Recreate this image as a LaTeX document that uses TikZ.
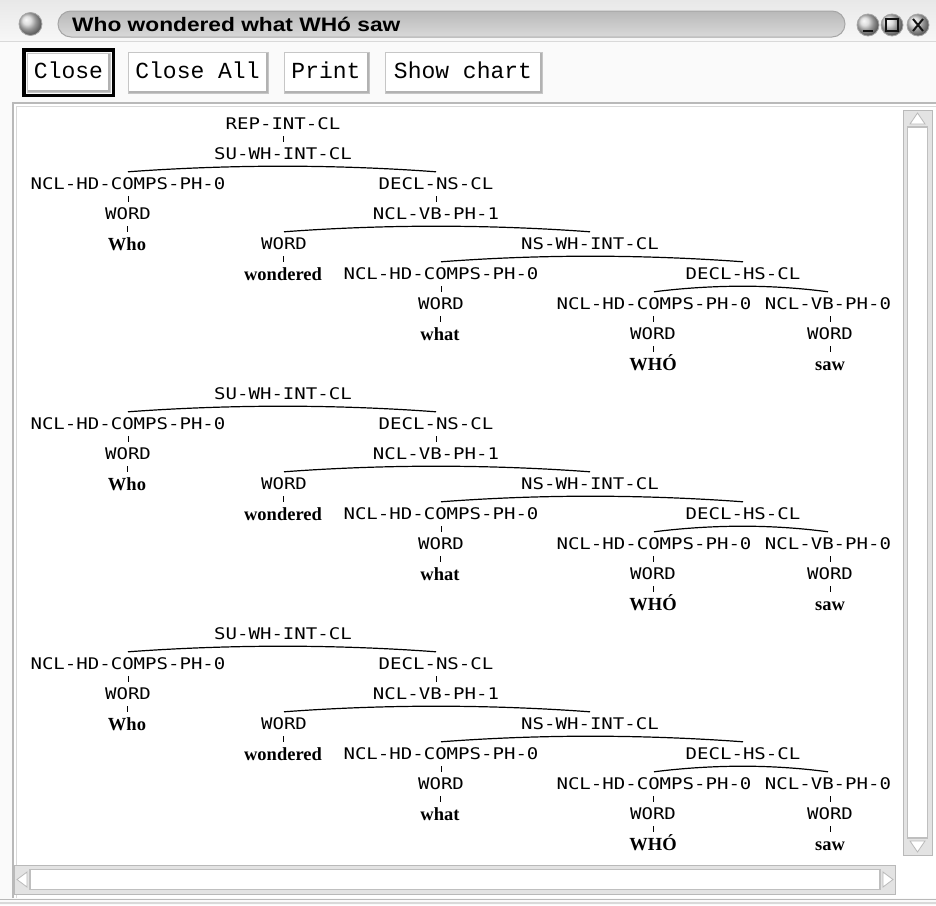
\documentclass[tikz,border=0pt]{standalone}
\usepackage{fontspec}
\usepackage{graphicx}
\usetikzlibrary{calc}
\newfontfamily\treefont{DejaVu Sans Mono}
\newfontfamily\wordfont{Liberation Serif}
\newfontfamily\btnfont{Liberation Mono}
\newfontfamily\titlefont{Liberation Sans}

% category labels are set slightly widened
\newcommand\tl[1]{\scalebox{1.19}[1]{#1}}

% one parse tree, rows 30pt apart, SU-WH-INT-CL on row 0
\newcommand\parsetree[1]{%
  \node[cat]  (#1su)       at (283,0)   {\tl{SU-WH-INT-CL}};
  \node[cat]  (#1np)       at (128,30)  {\tl{NCL-HD-COMPS-PH-0}};
  \node[cat]  (#1wa)       at (128,60)  {\tl{WORD}};
  \node[leaf] (#1who)      at (127,90)  {Who};
  \node[cat]  (#1decl)     at (436,30)  {\tl{DECL-NS-CL}};
  \node[cat]  (#1vp)       at (436,60)  {\tl{NCL-VB-PH-1}};
  \node[cat]  (#1wb)       at (284,90)  {\tl{WORD}};
  \node[leaf] (#1wondered) at (283,120) {wondered};
  \node[cat]  (#1nswh)     at (590,90)  {\tl{NS-WH-INT-CL}};
  \node[cat]  (#1npb)      at (441,120) {\tl{NCL-HD-COMPS-PH-0}};
  \node[cat]  (#1wc)       at (441,150) {\tl{WORD}};
  \node[leaf] (#1what)     at (440,180) {what};
  \node[cat]  (#1declhs)   at (743,120) {\tl{DECL-HS-CL}};
  \node[cat]  (#1npc)      at (654,150) {\tl{NCL-HD-COMPS-PH-0}};
  \node[cat]  (#1wd)       at (653,180) {\tl{WORD}};
  \node[leaf] (#1WHO)      at (653,210) {WHÓ};
  \node[cat]  (#1vpz)      at (828,150) {\tl{NCL-VB-PH-0}};
  \node[cat]  (#1we)       at (830,180) {\tl{WORD}};
  \node[leaf] (#1saw)      at (830,210) {saw};
  % binary branchings
  \draw[branch] (#1np.north)  parabola bend (#1su.south)     (#1decl.north);
  \draw[branch] (#1wb.north)  parabola bend (#1vp.south)     (#1nswh.north);
  \draw[branch] (#1npb.north) parabola bend (#1nswh.south)   (#1declhs.north);
  \draw[branch] (#1npc.north) parabola bend (#1declhs.south) (#1vpz.north);
  % unary branchings
  \draw[tick] (#1wa.north) -- (#1wa.north |- #1np.south);
  \draw[tick] (#1who.north) -- (#1who.north |- #1wa.south);
  \draw[tick] (#1vp.north) -- (#1vp.north |- #1decl.south);
  \draw[tick] (#1wondered.north) -- (#1wondered.north |- #1wb.south);
  \draw[tick] (#1wc.north) -- (#1wc.north |- #1npb.south);
  \draw[tick] (#1what.north) -- (#1what.north |- #1wc.south);
  \draw[tick] (#1wd.north) -- (#1wd.north |- #1npc.south);
  \draw[tick] (#1WHO.north) -- (#1WHO.north |- #1wd.south);
  \draw[tick] (#1we.north) -- (#1we.north |- #1vpz.south);
  \draw[tick] (#1saw.north) -- (#1saw.north |- #1we.south);
}

\begin{document}
\begin{tikzpicture}[x=1pt,y=-1pt,
  cat/.style={inner sep=0pt, minimum height=24pt, text height=11.7pt, text depth=0pt,
    font=\treefont\fontsize{16}{16}\selectfont},
  leaf/.style={inner sep=0pt, minimum height=24pt, text height=12.4pt, text depth=0pt,
    font=\wordfont\bfseries\fontsize{18.5}{18.5}\selectfont},
  branch/.style={line width=1.2pt},
  tick/.style={line width=1pt},
  btn/.style={draw=gray!45, fill=white, line width=1pt},
  btnlabel/.style={inner sep=0pt, text height=15pt, text depth=0pt,
    font=\btnfont\fontsize{23}{23}\selectfont},
  knob/.style={draw=gray!70, line width=0.8pt, ball color=gray!35},
  sbar/.style={fill=gray!22, draw=gray!55, line width=1pt},
  thumb/.style={fill=white, draw=gray!50, line width=1.2pt},
  arrowhead/.style={fill=white, draw=gray!55, line width=0.8pt}]
\useasboundingbox (0,0) rectangle (936,905);

% window background and title bar
\fill[gray!4] (0,0) rectangle (936,905);
\shade[top color=gray!18, bottom color=gray!6] (0,0) rectangle (936,41);
\draw[gray!30, line width=1pt] (0,41) -- (936,41);
\node[knob, circle, minimum size=23pt, inner sep=0pt] (menuknob) at (30.5,24) {};
\draw[draw=gray!70, line width=1pt, top color=gray!55, bottom color=gray!30, rounded corners=13pt]
  (58,11) rectangle (845,37);
\node[anchor=west, inner sep=0pt, text height=14pt, text depth=0pt,
  font=\titlefont\bfseries\fontsize{19.5}{19.5}\selectfont] (title) at (72,24)
  {\scalebox{1.165}[1]{Who wondered what WHó saw}};
\node[knob, circle, minimum size=22pt, inner sep=0pt] (minbtn) at (868,25) {};
\node[knob, circle, minimum size=22pt, inner sep=0pt] (maxbtn) at (892,25) {};
\node[knob, circle, minimum size=22pt, inner sep=0pt] (closebtn) at (918,25) {};
\draw[gray!15!black, line width=2pt] ($(minbtn.center)+(-5,6)$) -- ($(minbtn.center)+(5,6)$);
\draw[gray!15!black, line width=1.6pt] ($(maxbtn.center)+(-6,-6)$) rectangle ($(maxbtn.center)+(6,6)$);
\draw[gray!15!black, line width=2pt] ($(closebtn.center)+(-5,-6)$) -- ($(closebtn.center)+(5,6)$)
  ($(closebtn.center)+(-5,6)$) -- ($(closebtn.center)+(5,-6)$);

% button row
\draw[black, line width=3.5pt] (23.75,49.75) rectangle (113.25,95.25);
\draw[btn] (27,53) rectangle (110,92);
\draw[gray!60, line width=2pt] (28,91) -- (109,91) -- (109,54);
\node[btnlabel] (bclose) at (68.5,70.5) {Close};
\draw[btn] (128,52) rectangle (268,93);
\draw[gray!60, line width=2pt] (129,92) -- (267,92) -- (267,53);
\node[btnlabel] (bcloseall) at (197.5,70.5) {Close All};
\draw[btn] (284,52) rectangle (369,93);
\draw[gray!60, line width=2pt] (285,92) -- (368,92) -- (368,53);
\node[btnlabel] (bprint) at (326,70.5) {Print};
\draw[btn] (385,52) rectangle (542,93);
\draw[gray!60, line width=2pt] (386,92) -- (541,92) -- (541,53);
\node[btnlabel] (bchart) at (463,70.5) {Show chart};

% chart panel
\fill[white] (14,103) rectangle (936,898);
\draw[gray!55, line width=1.2pt] (13,898) -- (13,103) -- (936,103);
\draw[gray!30, line width=1.5pt] (16.5,898) -- (16.5,106.5) -- (936,106.5);
\draw[gray!55, line width=1.2pt] (0,899.5) -- (936,899.5);
\draw[gray!30, line width=1.2pt] (0,903) -- (936,903);

% vertical scroll bar
\draw[sbar] (903,110) rectangle (932,855);
\draw[thumb] (907.5,127) rectangle (927.5,838);
\draw[arrowhead] (917.5,113) -- (925,124) -- (910,124) -- cycle;
\draw[arrowhead] (917.5,852) -- (925,841) -- (910,841) -- cycle;

% horizontal scroll bar
\draw[sbar] (14,865) rectangle (895,894);
\draw[thumb] (30,869.5) rectangle (880,889.5);
\draw[arrowhead] (17,879.5) -- (27,872) -- (27,887) -- cycle;
\draw[arrowhead] (893,879.5) -- (883,872) -- (883,887) -- cycle;

% first analysis, topped by REP-INT-CL
\begin{scope}[shift={(0,154)}]
  \node[cat] (rep) at (283,-30) {\tl{REP-INT-CL}};
  \parsetree{ta}
  \draw[tick] (tasu.north) -- (tasu.north |- rep.south);
\end{scope}
% second and third analyses
\begin{scope}[shift={(0,394)}]
  \parsetree{tb}
\end{scope}
\begin{scope}[shift={(0,634)}]
  \parsetree{tc}
\end{scope}
\end{tikzpicture}
\end{document}
